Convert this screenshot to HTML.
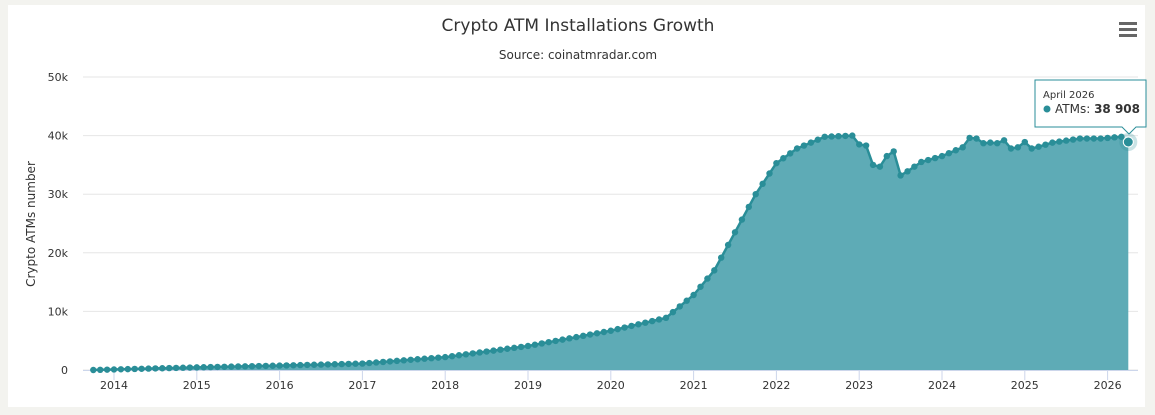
<!DOCTYPE html>
<html><head><meta charset="utf-8"><style>
html,body{margin:0;padding:0;background:#f3f3ef;}
body{width:1155px;height:415px;overflow:hidden;position:relative;font-family:"DejaVu Sans","Liberation Sans",sans-serif;}
</style></head><body>
<svg id="s" width="1155" height="415" xmlns="http://www.w3.org/2000/svg" style="position:absolute;left:0;top:0">
<rect x="8" y="5" width="1137" height="402" fill="#fff"/>
<text x="578" y="31" text-anchor="middle" font-size="17" fill="#333">Crypto ATM Installations Growth</text>
<text x="578" y="59" text-anchor="middle" font-size="12" fill="#333">Source: coinatmradar.com</text>
<g fill="#666"><rect x="1119" y="22" width="18" height="3"/><rect x="1119" y="28" width="18" height="3"/><rect x="1119" y="34" width="18" height="3"/></g>
<text transform="translate(35,224) rotate(-90)" text-anchor="middle" font-size="12" fill="#333">Crypto ATMs number</text>
<g id="grid"></g>
<g id="ser"></g>
<g id="tt"></g>
</svg>
<script>
var ns="http://www.w3.org/2000/svg",s=document.getElementById('s');
function el(p,t,a,txt){var e=document.createElementNS(ns,t);for(var k in a)e.setAttribute(k,a[k]);if(txt!=null)e.textContent=txt;p.appendChild(e);return e;}
var g=document.getElementById('grid');
var y0=370,py=5.86;function Y(v){return y0-v/1000*py;}
var x2014=114,pm=6.9;function X(m){return x2014+m*pm;}
for(var i=0;i<=5;i++){var y=Y(i*10000);el(g,'line',{x1:83,x2:1138,y1:y,y2:y,stroke:'#e6e6e6','stroke-width':1});
el(g,'text',{x:68,y:y+4,'text-anchor':'end','font-size':11,fill:'#333'},i==0?'0':(i*10)+'k');}
el(g,'line',{x1:83,x2:1138,y1:370.5,y2:370.5,stroke:'#ccd6eb'});
for(var yr=0;yr<=12;yr++){var x=X(yr*12);el(g,'line',{x1:x,x2:x,y1:370,y2:380,stroke:'#ccd6eb'});
el(g,'text',{x:x,y:389,'text-anchor':'middle','font-size':11,fill:'#333'},2014+yr);}
var k=[[-3,0],[12,450],[24,750],[36,1100],[48,2200],[60,4100],[72,6700],[80,8900],[84,12800],[87,17000],[90,23500],[93,30000],[96,35300],[99,37800],[103,39800],[107,40000],[108,38500],[109,38300],[110,35000],[111,34700],[112,36500],[113,37300],[114,33200],[115,33900],[117,35500],[120,36500],[123,38000],[124,39600],[125,39500],[126,38700],[127,38800],[128,38700],[129,39200],[130,37800],[131,38000],[132,38900],[133,37800],[134,38100],[136,38800],[140,39500],[143,39500],[144,39600],[146,39800],[147,38908]];
var pts=[];
for(var m=-3;m<=147;m++){for(var j=0;j<k.length-1;j++){if(m>=k[j][0]&&m<=k[j+1][0]){var t=(m-k[j][0])/(k[j+1][0]-k[j][0]);pts.push([X(m),Y(k[j][1]+t*(k[j+1][1]-k[j][1]))]);break;}}}
var ser=document.getElementById('ser');
var d='M'+pts[0][0]+','+y0+pts.map(p=>' L'+p[0].toFixed(1)+','+p[1].toFixed(1)).join('')+' L'+pts[pts.length-1][0]+','+y0+'Z';
el(ser,'path',{d:d,fill:'#5eabb6'});
el(ser,'path',{d:'M'+pts.map(p=>p[0].toFixed(1)+','+p[1].toFixed(1)).join(' L'),fill:'none',stroke:'#2a8e98','stroke-width':2.5});
pts.forEach(p=>el(ser,'circle',{cx:p[0],cy:p[1],r:3.2,fill:'#2a8e98'}));
var L=pts[pts.length-1];
el(ser,'circle',{cx:L[0],cy:L[1],r:9,fill:'#2a8e98','fill-opacity':0.25});
el(ser,'circle',{cx:L[0],cy:L[1],r:5,fill:'#2a8e98',stroke:'#fff','stroke-width':1});
var tt=document.getElementById('tt');
el(tt,'path',{d:'M1035,80 H1146 V127 H1136 L1129,134 L1122,127 H1035 Z',fill:'#fff','fill-opacity':0.95,stroke:'#2a8e98','stroke-width':1});
el(tt,'text',{x:1043,y:98,'font-size':10,fill:'#333'},'April 2026');
el(tt,'circle',{cx:1047,cy:109,r:3.5,fill:'#2a8e98'});
var t=el(tt,'text',{x:1055,y:113,'font-size':12,fill:'#333'},'ATMs: ');
el(t,'tspan',{'font-weight':'bold'},'38 908');
</script>
</body></html>
